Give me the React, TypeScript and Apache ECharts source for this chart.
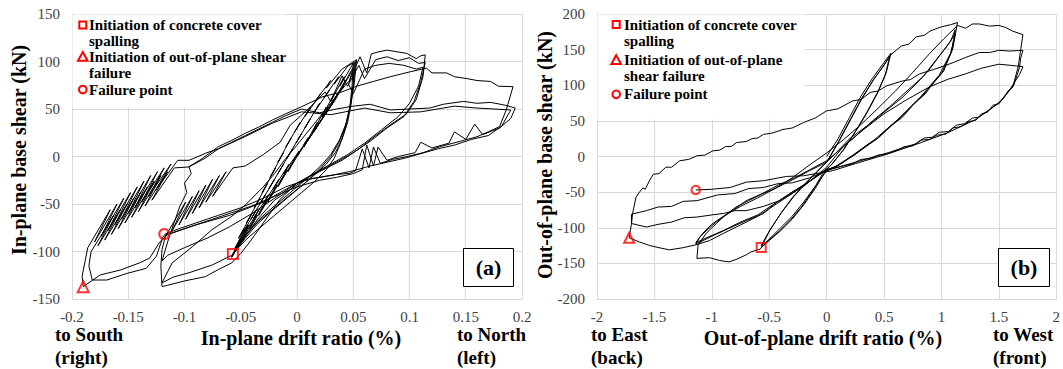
import React, { useEffect, useRef } from "react";
import * as echarts from "echarts";

// ---------- Panel (a): in-plane drift ratio (%) vs in-plane base shear (kN) ----------
const inPlaneDriftTicks = [-0.2, -0.15, -0.1, -0.05, 0, 0.05, 0.1, 0.15, 0.2];
const inPlaneShearTicks = [-150, -100, -50, 0, 50, 100, 150];

const ipSmallCycles: number[][] = [
  [0, 0], [0.01, 20], [0.006, 10], [0.018, 36], [0.014, 26], [0.026, 52], [0.022, 42], [0.034, 68], [0.03, 58], [0.042, 84], [0.038, 74], [0.048, 94], [0.05, 98],
  [0.049, 75], [0.047, 52], [0.043, 30], [0.038, 12], [0.033, -2], [0.026, -14], [0.016, -26], [0.004, -38], [-0.008, -50], [-0.02, -62], [-0.032, -74], [-0.044, -86], [-0.052, -96], [-0.057, -103],
  [-0.047, -76], [-0.052, -86], [-0.04, -60], [-0.045, -70], [-0.033, -44], [-0.038, -54], [-0.026, -28], [-0.031, -38], [-0.019, -12], [-0.024, -22], [-0.012, 4], [-0.017, -6], [-0.005, 20], [-0.01, 10], [0.003, 36], [-0.002, 26], [0.012, 52], [0.007, 42], [0.021, 66], [0.016, 58], [0.03, 80], [0.026, 72], [0.04, 92], [0.053, 102],
  [0.051, 78], [0.048, 56], [0.044, 36], [0.038, 18], [0.03, 2], [0.021, -10], [0.01, -22], [-0.002, -34], [-0.014, -46], [-0.026, -58], [-0.037, -70], [-0.047, -84], [-0.055, -100],
  [-0.044, -72], [-0.049, -82], [-0.036, -56], [-0.041, -66], [-0.028, -40], [-0.033, -50], [-0.02, -24], [-0.025, -34], [-0.012, -8], [-0.017, -18], [-0.004, 8], [-0.009, -2], [0.004, 24], [-0.001, 14], [0.012, 40], [0.007, 30], [0.02, 56], [0.015, 46], [0.029, 70], [0.024, 62], [0.037, 84], [0.033, 76], [0.045, 95], [0.051, 99],
  [0.05, 76], [0.048, 55], [0.045, 36], [0.04, 18], [0.034, 4], [0.026, -8], [0.015, -20], [0.003, -32], [-0.01, -44], [-0.022, -56], [-0.034, -68], [-0.045, -82], [-0.053, -95], [-0.058, -106],
  [-0.045, -78], [-0.05, -90], [-0.036, -62], [-0.042, -76], [-0.027, -46], [-0.034, -62], [-0.018, -30], [-0.026, -48], [-0.009, -14], [-0.017, -32], [0, 2], [-0.008, -16], [0.009, 18], [0, 0], [0.018, 32], [0.008, 14], [0.026, 46], [0.016, 28], [0.034, 60], [0.025, 44], [0.042, 76], [0.034, 60], [0.049, 92], [0.052, 100],
  [0.05, 74], [0.047, 52], [0.043, 32], [0.037, 14], [0.03, 0], [0.021, -12], [0.011, -24], [-0.001, -36], [-0.013, -48], [-0.025, -60], [-0.036, -72], [-0.046, -86], [-0.054, -98], [-0.058, -106],
];

const ipMediumCycles: number[][] = [
  [-0.05, -86], [-0.055, -96], [-0.043, -72], [-0.047, -82], [-0.034, -56], [-0.039, -66], [-0.025, -40], [-0.03, -50], [-0.016, -24], [-0.021, -34], [-0.007, -8], [-0.012, -18], [0.002, 6], [-0.003, -4], [0.011, 20], [0.006, 10], [0.02, 36], [0.015, 26], [0.028, 52], [0.023, 42], [0.036, 66], [0.031, 56], [0.043, 80], [0.039, 70], [0.05, 92], [0.046, 78], [0.056, 105], [0.062, 88], [0.066, 108], [0.072, 110], [0.08, 112], [0.09, 110], [0.0975, 108.6], [0.106, 103], [0.11, 106], [0.114, 107],
  [0.112, 84], [0.106, 60], [0.0975, 45], [0.085, 35], [0.07, 22], [0.055, 8], [0.04, -4], [0.02, -16], [0, -28], [-0.015, -45], [-0.03, -70], [-0.042, -90], [-0.05, -102], [-0.058, -112], [-0.07, -119], [-0.0815, -126.5], [-0.1, -131], [-0.12, -137],
  [-0.121, -115], [-0.12, -98], [-0.117, -84], [-0.099, -48], [-0.111, -78], [-0.093, -42], [-0.105, -72], [-0.087, -36], [-0.099, -66], [-0.081, -30], [-0.093, -60], [-0.075, -24], [-0.087, -54], [-0.069, -20], [-0.081, -48], [-0.063, -16], [-0.075, -42], [-0.057, -12], [-0.046, -10], [-0.03, 2], [-0.015, 15], [-0.006, 33], [0.01, 50], [0.025, 68], [0.03, 58], [0.04, 85], [0.045, 74], [0.055, 96], [0.06, 82], [0.07, 102], [0.08, 105], [0.09, 101], [0.1, 104], [0.108, 98], [0.114, 99],
  [0.11, 78], [0.104, 58], [0.095, 42], [0.08, 30], [0.065, 16], [0.05, 4], [0.035, -6], [0.015, -18], [0, -30], [-0.02, -46], [-0.035, -66], [-0.048, -88], [-0.058, -104], [-0.075, -114], [-0.095, -122], [-0.11, -127], [-0.12, -133],
  [-0.111, -112], [-0.093, -95], [-0.0755, -77], [-0.058, -63], [-0.045, -50], [-0.03, -32], [-0.02, -18], [-0.01, -2], [0, 12], [0.015, 34], [0.03, 56], [0.045, 78], [0.05, 66], [0.06, 92], [0.07, 96], [0.082, 98], [0.095, 96], [0.106, 92], [0.112, 94],
  [0.108, 74], [0.1, 56], [0.09, 42], [0.075, 28], [0.06, 14], [0.045, 2], [0.03, -8], [0.015, -18], [0, -28], [-0.02, -44], [-0.04, -60], [-0.06, -74], [-0.08, -86], [-0.1, -96], [-0.115, -104], [-0.12, -110],
];

const ipLargeCycles: number[][] = [
  [-0.115, -90], [-0.11, -72], [-0.104, -52], [-0.098, -38], [-0.1, -28], [-0.094, -18], [-0.096, -10.7], [-0.084, -2], [-0.07, 10.3], [-0.058, 17], [-0.046, 24.4], [-0.034, 31], [-0.022, 38.4], [-0.01, 45], [0.004, 52.4], [0.023, 63], [0.04, 68], [0.053, 74], [0.068, 79], [0.083, 84], [0.1, 89], [0.115, 93], [0.12, 88], [0.133, 88], [0.14, 84], [0.151, 82], [0.16, 80], [0.172, 79], [0.179, 74], [0.192, 73.5],
  [0.186, 49], [0.18, 31.4], [0.17, 26], [0.16, 20.8], [0.145, 16], [0.127, 10.3], [0.112, 4], [0.0975, -0.2], [0.085, -3], [0.074, -7.2], [0.068, 10], [0.064, -12], [0.058, 8], [0.052, -15], [0.047, -17.7], [0.035, -19], [0.023, -21.2], [0.01, -24], [0, -28], [-0.015, -38], [-0.03, -48], [-0.06, -62], [-0.09, -72], [-0.115, -82], [-0.122, -90], [-0.131, -107], [-0.14, -112], [-0.157, -119.5], [-0.175, -124.7], [-0.19, -137],
  [-0.191, -126], [-0.188, -108], [-0.186, -96], [-0.166, -56], [-0.18, -90], [-0.16, -50], [-0.174, -84], [-0.154, -44], [-0.168, -78], [-0.148, -38], [-0.162, -72], [-0.142, -32], [-0.156, -66], [-0.136, -26], [-0.15, -60], [-0.13, -20], [-0.144, -54], [-0.124, -16], [-0.138, -48], [-0.118, -12], [-0.132, -42], [-0.112, -8], [-0.126, -36], [-0.106, -4], [-0.096, -4], [-0.08, 4], [-0.07, 8], [-0.058, 15], [-0.046, 22], [-0.034, 29], [-0.022, 36], [-0.01, 43], [0.004, 50], [0.02, 46], [0.035, 50], [0.05, 53], [0.065, 55], [0.083, 49], [0.1, 50], [0.118, 51], [0.13, 55], [0.148, 58], [0.16, 56], [0.172, 57], [0.185, 54], [0.194, 51],
  [0.19, 40], [0.18, 30], [0.165, 23], [0.158, 34], [0.15, 18], [0.14, 26], [0.135, 14], [0.12, 9], [0.11, 15], [0.105, 4], [0.09, 0], [0.08, -4], [0.072, 10], [0.068, -10], [0.062, 12], [0.058, -14], [0.05, -18], [0.035, -22], [0.02, -25], [0, -32], [-0.02, -42], [-0.04, -52], [-0.07, -64], [-0.1, -76], [-0.119, -84], [-0.125, -105], [-0.134, -117.7], [-0.151, -123], [-0.169, -130], [-0.182, -130],
  [-0.185, -115], [-0.183, -100], [-0.163, -62], [-0.177, -94], [-0.157, -56], [-0.171, -88], [-0.151, -50], [-0.165, -82], [-0.145, -44], [-0.159, -76], [-0.139, -38], [-0.153, -70], [-0.133, -32], [-0.147, -64], [-0.127, -26], [-0.141, -58], [-0.121, -20], [-0.135, -52], [-0.115, -16], [-0.129, -46], [-0.109, -12], [-0.096, -11], [-0.082, -2], [-0.07, 8], [-0.046, 21], [-0.022, 35], [0.004, 47], [0.03, 44], [0.06, 51], [0.083, 46], [0.11, 47], [0.14, 53], [0.16, 51], [0.19, 49],
  [0.182, 32], [0.17, 22], [0.155, 18], [0.14, 12], [0.125, 8], [0.11, 3], [0.095, -2], [0.08, -6], [0.065, -10], [0.05, -15], [0.03, -20], [0.01, -24], [-0.01, -32], [-0.03, -44], [-0.05, -54], [-0.07, -62], [-0.09, -70], [-0.105, -76], [-0.118, -82],
];

const ipSpalling = [[-0.057, -102.6]];
const ipShearFailure = [[-0.19, -137]];
const ipFailurePoint = [[-0.118, -81.6]];

// ---------- Panel (b): out-of-plane drift ratio (%) vs out-of-plane base shear (kN) ----------
const oopDriftTicks = [-2, -1.5, -1, -0.5, 0, 0.5, 1, 1.5, 2];
const oopShearTicks = [-200, -150, -100, -50, 0, 50, 100, 150, 200];

const oopSmallCycles: number[][] = [
  [0, 0], [0.1, 25], [0.2, 55], [0.3, 85], [0.4, 110], [0.5, 132], [0.56, 145],
  [0.52, 118], [0.45, 92], [0.35, 62], [0.25, 35], [0.15, 10], [0.05, -10], [0, -18], [-0.1, -45], [-0.2, -68], [-0.3, -88], [-0.4, -104], [-0.5, -118], [-0.57, -128],
  [-0.5, -105], [-0.4, -80], [-0.3, -58], [-0.2, -40], [-0.1, -24], [0, -8], [0.1, 20], [0.2, 50], [0.3, 80], [0.4, 106], [0.5, 128], [0.55, 141],
  [0.51, 114], [0.44, 88], [0.34, 58], [0.24, 32], [0.14, 8], [0.04, -12], [-0.02, -20], [-0.12, -48], [-0.22, -71], [-0.32, -90], [-0.42, -106], [-0.51, -118], [-0.57, -125],
  [-0.49, -102], [-0.39, -78], [-0.29, -57], [-0.19, -39], [-0.09, -22], [0.01, -6], [0.11, 22], [0.21, 52], [0.31, 82], [0.41, 108], [0.51, 131], [0.56, 143],
];

const oopMediumCycles: number[][] = [
  [0.65, 155], [0.72, 158], [0.78, 168], [0.85, 170], [0.9, 176], [1.0, 182], [1.08, 185], [1.14, 188],
  [1.1, 152], [1.02, 120], [0.94, 106], [0.86, 88], [0.76, 74], [0.66, 55], [0.55, 42], [0.45, 26], [0.35, 16], [0.25, 3], [0.1, -12], [0, -20], [-0.1, -42], [-0.2, -64], [-0.3, -84], [-0.4, -100], [-0.5, -116], [-0.58, -130], [-0.66, -134], [-0.7, -138], [-0.78, -144], [-0.85, -148], [-0.93, -146], [-1.02, -142], [-1.13, -143],
  [-1.12, -125], [-1.05, -108], [-0.96, -94], [-0.88, -82], [-0.79, -71], [-0.68, -62], [-0.556, -52], [-0.45, -45], [-0.3, -33], [-0.15, -20], [0, -8], [0.1, 8], [0.2, 25], [0.37, 45], [0.5, 62], [0.66, 83], [0.78, 102], [0.89, 121], [1.0, 145], [1.08, 162], [1.12, 178],
  [1.09, 148], [1.0, 116], [0.84, 86], [0.64, 54], [0.44, 25], [0.24, 2], [0.1, -13], [0, -19], [-0.15, -35], [-0.3, -50], [-0.45, -66], [-0.55, -80], [-0.7, -90], [-0.84, -100], [-1.0, -112], [-1.14, -123],
  [-1.1, -112], [-1.02, -100], [-0.93, -88], [-0.82, -76], [-0.7, -62], [-0.56, -52], [-0.42, -40], [-0.28, -30], [-0.14, -18], [0, -6], [0.12, 10], [0.25, 28], [0.4, 50], [0.55, 70], [0.7, 92], [0.84, 112], [0.95, 135], [1.05, 155], [1.12, 172],
  [1.08, 145], [0.98, 114], [0.82, 84], [0.62, 52], [0.42, 24], [0.22, 1], [0.08, -14], [-0.02, -20], [-0.17, -37], [-0.32, -52], [-0.47, -68], [-0.6, -82], [-0.75, -92], [-0.9, -104], [-1.03, -113], [-1.14, -121],
];

const oopLargeCycles: number[][] = [
  [-1.08, -108], [-1.0, -95], [-0.9, -84], [-0.75, -70], [-0.6, -58], [-0.45, -45], [-0.3, -30], [-0.15, -12], [0, 5], [0.15, 24], [0.3, 45], [0.45, 68], [0.6, 92], [0.75, 118], [0.9, 145], [1.02, 165], [1.14, 184], [1.21, 180], [1.27, 186], [1.33, 186], [1.42, 183], [1.5, 184], [1.56, 181], [1.62, 176], [1.71, 171],
  [1.69, 150], [1.67, 127], [1.62, 97], [1.58, 92], [1.56, 86], [1.5, 74], [1.45, 72], [1.4, 62], [1.35, 60], [1.3, 51], [1.24, 49], [1.17, 42], [1.1, 40], [1.04, 31.5], [0.96, 30], [0.9, 24], [0.82, 23], [0.75, 15], [0.68, 14], [0.62, 9], [0.52, 3], [0.45, 2], [0.38, -3], [0.3, -4], [0.23, -10], [0.08, -15.7], [0, -18], [-0.15, -35], [-0.3, -52], [-0.45, -68], [-0.6, -84], [-0.75, -96], [-0.9, -108], [-1.02, -118], [-1.14, -124], [-1.25, -128], [-1.37, -131], [-1.46, -128], [-1.54, -125], [-1.63, -120], [-1.72, -114],
  [-1.7, -95], [-1.69, -80], [-1.66, -57], [-1.63, -50], [-1.6, -44], [-1.58, -46], [-1.54, -33], [-1.51, -25], [-1.46, -24], [-1.4, -15], [-1.35, -15], [-1.28, -6], [-1.2, -4], [-1.13, 1], [-1.06, 2], [-0.99, 8], [-0.93, 9], [-0.88, 14], [-0.83, 14], [-0.785, 19.6], [-0.7, 21], [-0.65, 25], [-0.6, 26], [-0.55, 31], [-0.47, 33], [-0.38, 38], [-0.3, 40], [-0.2, 47.7], [-0.1, 54], [0, 64], [0.1, 67], [0.226, 78], [0.3, 80], [0.38, 90], [0.45, 92], [0.52, 99], [0.66, 106], [0.73, 108], [0.81, 116], [0.93, 122], [1.04, 128], [1.12, 133], [1.21, 139], [1.33, 146], [1.42, 146], [1.5, 149], [1.6, 148], [1.71, 149],
  [1.69, 138], [1.68, 125], [1.63, 100], [1.52, 78], [1.42, 66], [1.32, 55], [1.27, 54], [1.2, 46], [1.13, 44], [1.06, 35], [0.98, 34], [0.92, 27], [0.85, 26], [0.78, 18], [0.66, 12], [0.55, 6], [0.4, -1], [0.25, -8], [0.08, -16], [0, -20], [-0.15, -30], [-0.3, -37], [-0.42, -38], [-0.55, -43.5], [-0.68, -45], [-0.8, -52], [-0.95, -54], [-1.13, -62], [-1.25, -63], [-1.35, -70], [-1.47, -71], [-1.57, -76], [-1.7, -81],
  [-1.7, -94], [-1.57, -99], [-1.46, -95], [-1.35, -92], [-1.24, -86], [-1.13, -85], [-1.0, -82], [-0.9, -80], [-0.8, -76], [-0.7, -76], [-0.55, -70], [-0.41, -62], [-0.2, -42], [0, -15], [0.15, 15], [0.3, 35], [0.5, 60], [0.7, 80], [0.9, 98], [1.05, 108], [1.21, 116], [1.35, 124], [1.5, 129.5], [1.6, 128], [1.71, 126],
  [1.68, 115], [1.6, 95], [1.5, 75], [1.3, 52], [1.05, 33], [0.78, 17], [0.5, 2], [0.25, -10], [0.05, -20], [-0.2, -27], [-0.35, -28], [-0.55, -34], [-0.7, -36], [-0.84, -43.5], [-1.0, -46], [-1.14, -47],
];

const oopSpalling = [[-0.57, -127.7]];
const oopShearFailure = [[-1.72, -114]];
const oopFailurePoint = [[-1.14, -47]];

const legendLinesA = ["Initiation of concrete cover", "spalling", "Initiation of out-of-plane shear", "failure", "Failure point"];
const legendLinesB = ["Initiation of concrete cover", "spalling", "Initiation of out-of-plane", "shear failure", "Failure point"];

const SERIF = "'Liberation Serif', 'Times New Roman', serif";
const GRID_COLOR = "#d9d9d9";
const RED = "#ff0000";

function txt(text: string, x: number, y: number, size: number, align = "left", rotation = 0, z = 20) {
  return {
    type: "text",
    x,
    y,
    rotation,
    z,
    style: {
      text,
      fontFamily: SERIF,
      fontSize: size,
      fontWeight: "bold",
      fill: "#000",
      align,
      verticalAlign: "middle",
      textAlign: align,
      textVerticalAlign: "middle",
    },
  };
}

function legendGraphics(x0: number, w: number, h: number, mx: number, tx: number, ys: number[], lines: string[]) {
  const mk = { fill: "#fff", stroke: RED, lineWidth: 2 };
  return [
    { type: "rect", z: 15, shape: { x: x0, y: 14.5, width: w, height: h }, style: { fill: "#fff" } },
    { type: "rect", z: 20, shape: { x: mx - 3.5, y: ys[0] - 3.5, width: 7, height: 7 }, style: mk },
    { type: "polygon", z: 20, shape: { points: [[mx, ys[2] - 4.8], [mx + 4.8, ys[2] + 4], [mx - 4.8, ys[2] + 4]] }, style: mk },
    { type: "circle", z: 20, shape: { cx: mx, cy: ys[4], r: 3.8 }, style: mk },
    ...lines.map((l, i) => txt(l, tx, ys[i], 15)),
  ];
}

function panelLabel(x: number, y: number, w: number, h: number, label: string) {
  return [
    { type: "rect", z: 15, shape: { x: x + 0.5, y: y + 0.5, width: w, height: h }, style: { fill: "#fff", stroke: "#000", lineWidth: 1 } },
    txt(label, x + w / 2 + 0.5, y + h / 2 + 0.5, 22, "center"),
  ];
}

function valueAxis(gridIndex: number, ticks: number[], interval: number, margin: number) {
  return {
    type: "value",
    gridIndex,
    min: ticks[0],
    max: ticks[ticks.length - 1],
    interval,
    axisLine: { show: true, onZero: false, lineStyle: { color: GRID_COLOR, width: 1 } },
    axisTick: { show: false },
    splitLine: { show: true, lineStyle: { color: GRID_COLOR, width: 1 } },
    axisLabel: { fontFamily: SERIF, fontSize: 15, color: "#404040", margin },
  };
}

function markerSeries(data: number[][], symbol: string, size: number, xi: number) {
  return {
    type: "scatter",
    xAxisIndex: xi,
    yAxisIndex: xi,
    data,
    symbol,
    symbolSize: size,
    z: 5,
    itemStyle: { color: "rgba(255,255,255,0)", borderColor: RED, borderWidth: 2 },
  };
}

export default function App() {
  const ref = useRef<HTMLDivElement>(null);
  useEffect(() => {
    if (!ref.current) return;
    const chart = echarts.init(ref.current, undefined, { renderer: "svg" });
    chart.setOption({
      animation: false,
      backgroundColor: "#fff",
      textStyle: { fontFamily: SERIF },
      grid: [
        { left: 72, top: 14, width: 450, height: 285 },
        { left: 597, top: 14, width: 461, height: 285 },
      ],
      xAxis: [valueAxis(0, inPlaneDriftTicks, 0.05, 10), valueAxis(1, oopDriftTicks, 0.5, 10)],
      yAxis: [valueAxis(0, inPlaneShearTicks, 50, 12), valueAxis(1, oopShearTicks, 50, 12)],
      series: [
        {
          type: "line",
          xAxisIndex: 0,
          yAxisIndex: 0,
          data: [...ipSmallCycles, ...ipMediumCycles, ...ipLargeCycles],
          showSymbol: false,
          symbol: "none",
          lineStyle: { color: "#000", width: 1 },
          z: 3,
        },
        {
          type: "line",
          xAxisIndex: 1,
          yAxisIndex: 1,
          data: [...oopSmallCycles, ...oopMediumCycles, ...oopLargeCycles],
          showSymbol: false,
          symbol: "none",
          lineStyle: { color: "#000", width: 1 },
          z: 3,
        },
        markerSeries(ipSpalling, "rect", 10, 0),
        markerSeries(ipShearFailure, "triangle", 11, 0),
        markerSeries(ipFailurePoint, "circle", 10, 0),
        markerSeries(oopSpalling, "rect", 9, 1),
        markerSeries(oopShearFailure, "triangle", 10, 1),
        markerSeries(oopFailurePoint, "circle", 8.5, 1),
      ],
      graphic: [
        ...legendGraphics(72.5, 212, 93, 82.8, 89, [25, 41, 56.8, 72.5, 89.5], legendLinesA),
        ...legendGraphics(597.5, 207, 105, 616.2, 624, [24.5, 40.7, 60, 75.5, 94.3], legendLinesB),
        ...panelLabel(463, 248, 50, 38, "(a)"),
        ...panelLabel(998, 248, 51, 38, "(b)"),
        txt("In-plane base shear (kN)", 19, 150, 20, "center", Math.PI / 2),
        txt("In-plane drift ratio (%)", 301, 338, 20, "center"),
        txt("to South", 55, 334, 19),
        txt("(right)", 55, 357, 19),
        txt("to North", 457, 334, 19),
        txt("(left)", 457, 357, 19),
        txt("Out-of-plane base shear (kN)", 545, 155, 20, "center", Math.PI / 2),
        txt("Out-of-plane drift ratio (%)", 823, 338, 20, "center"),
        txt("to East", 591, 334, 19),
        txt("(back)", 591, 357, 19),
        txt("to West", 993, 334, 19),
        txt("(front)", 993, 357, 19),
      ],
    });
    return () => chart.dispose();
  }, []);
  return <div ref={ref} style={{ position: "absolute", left: 0, top: 0, width: 1063, height: 369 }} />;
}
